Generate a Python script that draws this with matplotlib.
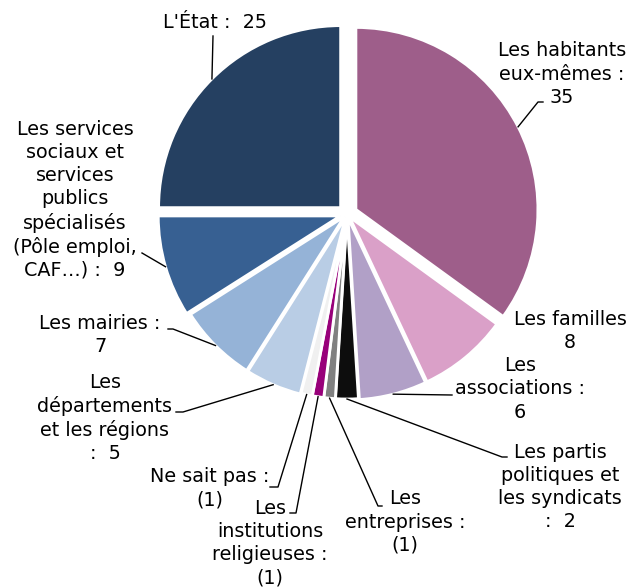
import numpy as np
import matplotlib.pyplot as plt

# Qui devrait agir ? (nombre de citations, total = 100)
labels = [
    "Les habitants\neux-mêmes :\n35",
    "Les familles\n8",
    "Les\nassociations :\n6",
    "Les partis\npolitiques et\nles syndicats\n:  2",
    "Les\nentreprises :\n(1)",
    "Les\ninstitutions\nreligieuses :\n(1)",
    "Ne sait pas :\n(1)",
    "Les\ndépartements\net les régions\n:  5",
    "Les mairies :\n7",
    "Les services\nsociaux et\nservices\npublics\nspécialisés\n(Pôle emploi,\nCAF…) :  9",
    "L'État :  25",
]
values = [35, 8, 6, 2, 1, 1, 1, 5, 7, 9, 25]
colors = ['#9E5E8A', '#DAA0C8', '#B1A0C7', '#0D0D0D', '#808080', '#98007A',
          '#F0F0F0', '#B9CDE5', '#95B3D7', '#376092', '#254061']
# décalage des parts, en pixels
explode = [10, 4, 4, 3, 3, 3, 3, 4, 4, 7, 9]

W, H = 630, 587

# position du texte (centre du bloc) et coudes des traits de rappel, en pixels
text_xy = [(562, 74), (570, 331), (520, 389), (560, 487), (405, 522),
           (270, 543), (210, 488), (105, 418), (100, 335), (75, 200), (215, 22)]
leaders = [
    [(538, 102), (543, 102)],
    None,
    [(452, 395)],
    [(502, 457), (507, 457)],
    [(378, 506), (382, 506)],
    [(296, 513), (290, 513)],
    [(278, 487), (270, 487)],
    [(183, 412), (176, 412)],
    [(173, 329), (168, 329)],
    [(142, 253)],
    [(213, 36)],
]

fig = plt.figure(figsize=(W / 100, H / 100), dpi=100)
ax = fig.add_axes([0, 0, 1, 1])

wedges, _ = ax.pie(values, colors=colors, explode=explode, startangle=90,
                   counterclock=False, radius=182, center=(347, H - 214),
                   wedgeprops=dict(edgecolor='white', linewidth=2))

for w, lab, (tx, ty), pts in zip(wedges, labels, text_xy, leaders):
    ax.text(tx, H - ty, lab, ha='center', va='center', fontsize=13.8,
            linespacing=1.27, color='black', family='DejaVu Sans')
    if pts is None:
        continue
    a = np.deg2rad((w.theta1 + w.theta2) / 2)
    x0 = w.center[0] + w.r * np.cos(a)
    y0 = w.center[1] + w.r * np.sin(a)
    xs = [x0] + [p[0] for p in pts]
    ys = [y0] + [H - p[1] for p in pts]
    ax.plot(xs, ys, color='black', lw=1)

ax.set_xlim(0, W)
ax.set_ylim(0, H)
ax.axis('off')

fig.savefig('out.png', dpi=100)
